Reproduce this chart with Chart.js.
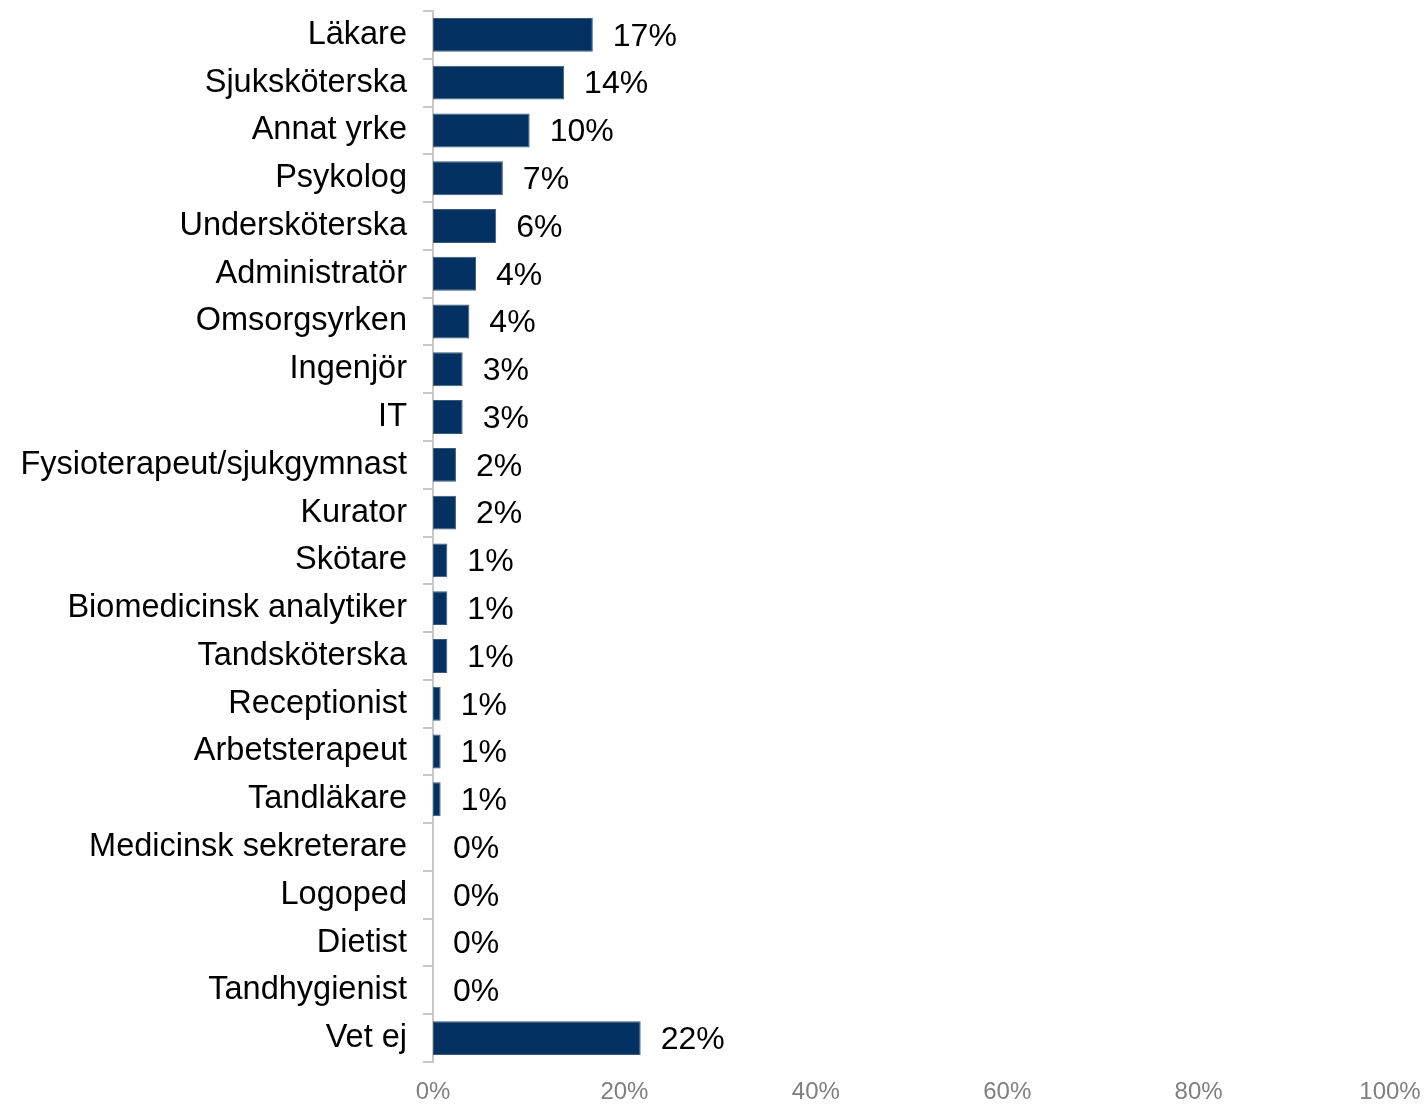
<!DOCTYPE html>
<html>
<head>
<meta charset="utf-8">
<script src="https://cdn.jsdelivr.net/npm/chart.js@4"></script>
<style>
html,body{margin:0;padding:0;background:#fff;}
#wrap{width:1425px;height:1104px;position:relative;}
</style>
</head>
<body>
<div id="wrap"><canvas id="c" width="1425" height="1104"></canvas></div>
<script>
const categories = ["Läkare","Sjuksköterska","Annat yrke","Psykolog","Undersköterska","Administratör","Omsorgsyrken","Ingenjör","IT","Fysioterapeut/sjukgymnast","Kurator","Skötare","Biomedicinsk analytiker","Tandsköterska","Receptionist","Arbetsterapeut","Tandläkare","Medicinsk sekreterare","Logoped","Dietist","Tandhygienist","Vet ej"];
const values = [16.7,13.7,10.1,7.3,6.6,4.5,3.8,3.1,3.1,2.4,2.4,1.5,1.5,1.5,0.8,0.8,0.8,0,0,0,0,21.7];
const valueLabels = ["17%","14%","10%","7%","6%","4%","4%","3%","3%","2%","2%","1%","1%","1%","1%","1%","1%","0%","0%","0%","0%","22%"];
const xTicks = [0,20,40,60,80,100];

const FONT = "'Liberation Sans', Arial, sans-serif";

const labelPlugin = {
  id: 'valueLabels',
  afterDatasetsDraw(chart) {
    const ctx = chart.ctx;
    const meta = chart.getDatasetMeta(0);
    ctx.save();
    ctx.font = "32px " + FONT;
    ctx.fillStyle = "#000";
    ctx.textAlign = "left";
    ctx.textBaseline = "middle";
    meta.data.forEach((el, i) => {
      ctx.fillText(valueLabels[i], el.x + 20, el.y + 2);
    });
    ctx.restore();
  }
};

new Chart(document.getElementById('c'), {
  type: 'bar',
  data: {
    labels: categories,
    datasets: [{
      data: values,
      backgroundColor: '#033262',
      borderColor: '#3d5b7a',
      borderWidth: 1,
      borderSkipped: false,
      barPercentage: 0.71,
      categoryPercentage: 1.0
    }]
  },
  options: {
    indexAxis: 'y',
    responsive: false,
    animation: false,
    devicePixelRatio: 1,
    layout: { padding: { top: 11, right: 0, bottom: 0, left: 0 } },
    plugins: { legend: { display: false }, tooltip: { enabled: false } },
    scales: {
      x: {
        min: 0, max: 100,
        afterBuildTicks(axis) { axis.ticks = xTicks.map(v => ({ value: v })); },
        afterFit(axis) { axis.height = 42; axis.paddingLeft = 0; axis.paddingRight = 35; },
        ticks: {
          callback: v => v + '%',
          font: { family: FONT, size: 24 },
          color: '#7f7f7f',
          maxRotation: 0,
          padding: 16
        },
        grid: { display: false, drawTicks: false },
        border: { display: false }
      },
      y: {
        afterFit(axis) { axis.width = 433; axis.paddingTop = 0; axis.paddingBottom = 0; },
        ticks: {
          font: { family: FONT, size: 32.5 },
          color: '#000',
          padding: 16,
          autoSkip: false
        },
        grid: { drawOnChartArea: false, drawTicks: true, tickLength: 10, color: '#c8c8c8', lineWidth: 2 },
        border: { display: true, color: '#c8c8c8', width: 2 }
      }
    }
  },
  plugins: [labelPlugin]
});
</script>
</body>
</html>
